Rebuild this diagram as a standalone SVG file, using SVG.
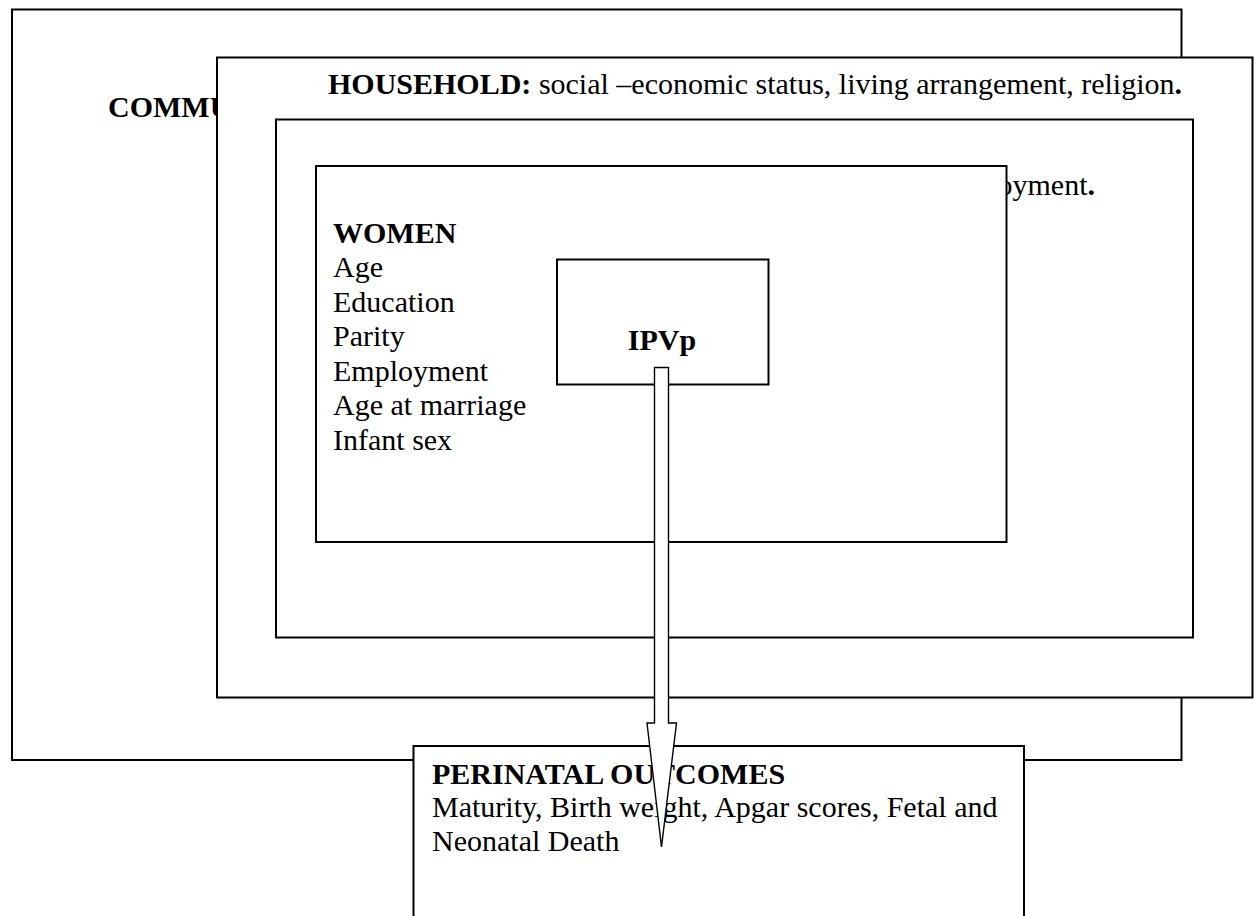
<svg xmlns="http://www.w3.org/2000/svg" width="1254" height="916" viewBox="0 0 1254 916">
  <style>
    .box { fill: #ffffff; stroke: #000000; stroke-width: 2; }
    .t { font-family: "Liberation Serif", "Times New Roman", serif; font-size: 30px; fill: #000000; }
    .b { font-weight: bold; }
    .arrow { fill: #ffffff; stroke: #000000; stroke-width: 1.4; stroke-linejoin: miter; }
  </style>
  <rect x="0" y="0" width="1254" height="916" fill="#ffffff"/>
  <g id="community">
    <rect class="box" x="12" y="9.5" width="1169.5" height="750.5"/>
    <text class="t b" x="108" y="116.5">COMMU</text>
  </g>
  <g id="household">
    <rect class="box" x="217" y="57.5" width="1035.5" height="640"/>
    <text class="t" x="328" y="93.5"><tspan class="b">HOUSEHOLD:</tspan> social –economic status, living arrangement, religion<tspan class="b">.</tspan></text>
  </g>
  <g id="partner">
    <rect class="box" x="276" y="119.5" width="917" height="518"/>
    <text class="t" x="1095" y="195" text-anchor="end">oyment<tspan class="b">.</tspan></text>
  </g>
  <g id="women">
    <rect class="box" x="316" y="166" width="690.5" height="376"/>
    <text class="t" x="333" y="242.5"><tspan class="b">WOMEN</tspan>
      <tspan x="333" y="277">Age</tspan>
      <tspan x="333" y="311.5">Education</tspan>
      <tspan x="333" y="346">Parity</tspan>
      <tspan x="333" y="380.5">Employment</tspan>
      <tspan x="333" y="415">Age at marriage</tspan>
      <tspan x="333" y="449.5">Infant sex</tspan>
    </text>
  </g>
  <g id="ipvp">
    <rect class="box" x="557" y="259.5" width="211.5" height="125"/>
    <text class="t b" x="662" y="350" text-anchor="middle">IPVp</text>
  </g>
  <g id="perinatal">
    <rect class="box" x="413.5" y="746" width="610.5" height="200"/>
    <text class="t" x="432" y="783.5"><tspan class="b">PERINATAL OUTCOMES</tspan>
      <tspan x="432" y="817">Maturity, Birth weight, Apgar scores, Fetal and</tspan>
      <tspan x="432" y="850.5">Neonatal Death</tspan>
    </text>
  </g>
  <g id="connectors">
    <polygon class="arrow" points="654.5,367.5 668.5,367.5 668.5,723 676.5,723 661.5,847 647,723 654.5,723"/>
  </g>
</svg>
